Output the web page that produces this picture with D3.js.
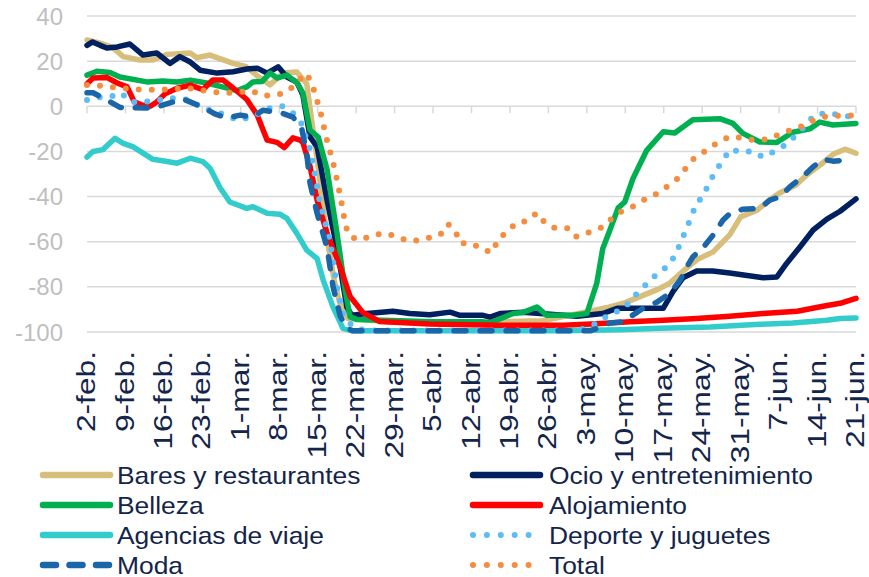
<!DOCTYPE html>
<html>
<head>
<meta charset="UTF-8" />
<title>Gasto con tarjeta por sector</title>
<script src="https://d3js.org/d3.v7.min.js"></script>
<style>
  body { margin: 0; background: #fff; }
  text { font-family: Arial, "Liberation Sans", sans-serif; }
</style>
</head>
<body>
<svg id="chart" width="869" height="577"></svg>
<script>
// week labels, one every 7 days starting 2-feb (day 0)
var weekLabels = ["2-feb.", "9-feb.", "16-feb.", "23-feb.", "1-mar.", "8-mar.", "15-mar.",
  "22-mar.", "29-mar.", "5-abr.", "12-abr.", "19-abr.", "26-abr.", "3-may.", "10-may.",
  "17-may.", "24-may.", "31-may.", "7-jun.", "14-jun.", "21-jun."]
var yTicks = [40, 20, 0, -20, -40, -60, -80, -100]

// [day since 2-feb, value]
var bares = [[0,29.4],[2.4,28],[4.7,26],[6.6,22],[9.6,20.5],[12,20.5],[14.6,23],[18.8,23.6],[20,21.5],
  [22.4,22.7],[26.6,19],[29,17.5],[31.5,12.5],[33.3,9.5],[35.7,14.7],[38.2,15.2],[40,10],[41,-8],
  [42,-25],[43,-45],[44,-63],[45,-77],[46,-87],[47.5,-94],[55,-95.5],[65,-95.5],[75,-95.5],[83,-95],
  [88,-92.5],[95,-89],[98,-87],[101,-84],[104,-81],[106,-78.5],[109,-72],[111,-68],[114,-64.5],
  [117,-57],[119,-49],[122,-46],[124,-42],[126,-38.5],[129,-35],[131,-30.5],[134,-25],[136,-21],
  [138,-19],[140,-20.8]]
var ocio = [[0,27],[1,28.5],[2.4,27],[3.6,25.8],[5.5,26.3],[7.8,27.6],[10.2,22.7],[12.7,23.6],[15.1,19],
  [16.9,22],[18.8,19.6],[20.6,16],[23.7,14.7],[26.6,15.3],[29.1,16.5],[31,16.9],[32.8,14.7],[34.8,17.5],
  [36.4,13],[38.2,10.7],[39.3,5],[40.6,-13.6],[41.9,-18],[43.7,-41.6],[45.5,-62.6],[47.3,-89],[48.2,-92.6],
  [51,-91.8],[55.7,-90.8],[58.8,-91.8],[62.4,-92.4],[66.1,-91.2],[67.9,-92.6],[72.1,-92.6],[73.4,-93.4],
  [75.2,-91.8],[79.4,-91.2],[82.5,-91.8],[89.2,-93],[93.9,-91.8],[96.5,-89.5],[104.9,-89.5],[106.7,-82],
  [108.5,-76],[111,-73],[113.9,-73],[117,-73.9],[120.2,-75],[123.1,-76],[125.6,-75.6],[127.4,-69.5],
  [129.8,-62.3],[132.2,-54.8],[134.7,-50],[137.1,-46.5],[140,-41]]
var belleza = [[0,13.8],[1.8,15.5],[4.2,15],[6,13],[10.9,10.8],[13.8,11.2],[16.4,10.8],[18.8,11.6],
  [21.8,10.3],[24.8,8.5],[27.3,7],[29.1,8.6],[30.2,10.8],[31.9,11],[33.3,14.7],[34.6,12.5],[36.4,13.8],
  [38.2,10.5],[39.3,5.9],[40.6,-10.5],[42.1,-13.6],[43.7,-28],[45.5,-56],[47,-81.5],[47.9,-93.3],
  [49.2,-94.5],[63,-95.5],[72.1,-95.5],[73.4,-96],[77.6,-91.8],[79.4,-91.3],[81.9,-88.9],[83.7,-92.6],
  [88.5,-92.6],[91,-91.8],[92.8,-78.5],[93.9,-63],[95.2,-54.8],[96.7,-45],[97.9,-42.4],[99.4,-32],
  [101.9,-19.5],[104.9,-11.3],[107,-11.8],[110.3,-6],[115.2,-5.5],[117.6,-7.6],[119.4,-12],[122.5,-15.8],
  [125.6,-16],[128.5,-11.5],[131.6,-10],[133.4,-7],[135.8,-8.3],[140,-7.6]]
var alojamiento = [[0,10],[1.1,12.5],[3.6,12.8],[5.5,10.3],[7.3,8.6],[8.6,2],[10,0.6],[11.5,0],[12.7,1.9],
  [14.2,5.5],[16.4,8],[18.8,9.4],[21.1,7.4],[22.9,11.6],[24.8,11.6],[26.6,8.1],[29.1,3],[31,-4],[32.8,-15],
  [34.6,-16],[35.9,-18.3],[37.5,-14],[38.8,-15],[39.3,-16],[40.6,-26.6],[41.9,-41.6],[43.7,-56.3],
  [46.1,-71.2],[47.9,-84.3],[50.2,-91.3],[53.3,-95.4],[62.4,-96.5],[74.6,-97],[86.7,-97],[92.8,-96.3],
  [98.9,-95.5],[104.9,-94.8],[111,-94],[117,-93],[123.1,-91.8],[129.3,-90.8],[134,-88.6],[137.1,-87.3],
  [140,-85.1]]
var agencias = [[0,-22.5],[1.1,-20],[2.9,-19.2],[5.1,-14.2],[6.6,-16.4],[8.4,-18],[12,-23.5],[14.6,-24.5],
  [16.4,-25.2],[18.8,-23],[21.1,-24.5],[22.4,-27.5],[24.2,-36],[26,-42.4],[29.1,-45.2],[30.2,-44.5],
  [32.8,-47.4],[35.1,-47.8],[36.4,-49.7],[38.2,-56.3],[40,-63.7],[41.9,-67.5],[43,-77],[44.8,-89],
  [46.6,-98.4],[48.4,-99.5],[66,-99.5],[86,-99.5],[97,-99],[104.3,-98.3],[113.4,-97.8],[122.5,-96.6],
  [128.5,-96],[134.7,-94.8],[137.1,-94],[140,-93.8]]
var deporte = [[0,2.8],[2.4,4],[4.2,4.1],[6.2,6],[8,1.9],[10.2,1.9],[12.7,2.5],[14.7,3.7],[16.9,3.5],
  [19.1,2.5],[21.1,-1.2],[23.3,-2],[25.1,-3.9],[27.5,-6.1],[29.7,-4.8],[31.5,-3],[33,-1],[34.8,0],[35.7,0],
  [37.5,-3],[39,-7.5],[40.6,-19],[41.9,-35.6],[42.4,-43],[44.2,-59],[45.5,-80],[46.6,-92],[48.4,-97.8],
  [50.6,-99.3],[88.5,-99.3],[91,-98.4],[92.8,-96],[94.9,-92.6],[97,-90.4],[98.9,-86.7],[100.3,-82.3],
  [102.1,-78.3],[103.9,-73.9],[105.8,-70.8],[107.2,-65.5],[108.1,-60.1],[109.1,-54.4],[110,-49],
  [110.9,-43.3],[112.3,-39.3],[113.2,-34],[114.5,-28.7],[115.8,-23.5],[117.2,-19],[118.9,-20.3],
  [121.1,-19.9],[123.1,-22.5],[125.2,-19.9],[127.4,-16.8],[129.1,-12.8],[130.7,-8.8],[132.4,-3.9],
  [134.7,-2.9],[137.1,-3.9],[139.5,-4.8]]
var moda = [[0,6],[1.1,6],[4.2,2],[6,-0.5],[10.9,-0.8],[12.7,-0.3],[15.1,1.5],[17.5,3.2],[19.3,1.4],
  [21.1,-0.5],[23.3,-3.4],[25.5,-5.2],[27.9,-3.9],[30,-4.8],[32,-1.8],[35.1,-2.7],[37.5,-4.8],[39.1,-10],
  [40,-20.8],[40.6,-34],[41.9,-47.5],[43.7,-62.6],[44.8,-80],[46.1,-93],[47.3,-98.3],[48.4,-99.5],
  [91.6,-99.5],[92.8,-98.4],[95.2,-96],[97.6,-95.5],[98.9,-93.3],[101.2,-89.5],[103.8,-86.7],[106.1,-82.8],
  [108,-77],[109.2,-71.2],[110.3,-66.7],[112.1,-62.8],[114,-57],[115.8,-50.4],[117.1,-47.4],[119.4,-45.6],
  [122.5,-45.2],[124.3,-41.6],[126.2,-40.1],[128,-35.6],[130.3,-31.2],[132.2,-26.8],[134,-23.5],
  [135.8,-24.3],[138.4,-23.8]]
var total = [[0,9.4],[1.1,9.4],[6,8.1],[10.9,7.2],[15.7,7.6],[18.2,8.1],[20.6,7.2],[22.9,6.3],[25.5,5.9],
  [27.9,6.3],[30,6.8],[32,4.6],[34.2,5],[36,5.9],[37.9,9.4],[39.7,14.6],[40.6,12],[41.5,5.9],[42.1,0.6],
  [42.8,-5.2],[43.3,-11.4],[43.9,-17],[44.6,-23],[45.1,-28],[45.7,-34.8],[46.1,-40],[46.6,-45.9],[47,-52.7],
  [47.9,-57.8],[49.7,-59.3],[52.1,-57],[54.6,-56.3],[57,-58.6],[59.3,-59.8],[61.9,-58.5],[64.3,-57],
  [65.7,-52.2],[67,-54.8],[67.9,-60.7],[70.1,-60.7],[72.1,-63.7],[73.9,-64.6],[74.8,-58.9],[76.5,-55.7],
  [78.1,-51.7],[80.1,-50.8],[81.9,-47.2],[83.4,-51.7],[85.2,-54],[87.6,-54],[89,-57.8],[91.2,-56],
  [93.6,-53.8],[95.2,-50.4],[97,-46.9],[99.2,-44.7],[101.4,-41.5],[103.6,-38.9],[105.6,-35.6],[107.6,-31.9],
  [109,-27.5],[110.7,-22.5],[112.7,-19.7],[114.7,-16.2],[116.9,-13.5],[119.2,-13.9],[121.4,-15],[124,-14.6],
  [126.2,-12.3],[128.3,-10.3],[130.7,-8.4],[132.9,-5.4],[135.1,-4.2],[137.6,-4.2],[140,-4]]

var series = [
  {name: "Bares y restaurantes", data: bares, color: "#d7be7b", style: "solid"},
  {name: "Ocio y entretenimiento", data: ocio, color: "#002060", style: "solid"},
  {name: "Belleza", data: belleza, color: "#00b050", style: "solid"},
  {name: "Alojamiento", data: alojamiento, color: "#ff0000", style: "solid"},
  {name: "Agencias de viaje", data: agencias, color: "#33cccc", style: "solid"},
  {name: "Deporte y juguetes", data: deporte, color: "#5bbcf8", style: "dot"},
  {name: "Moda", data: moda, color: "#1a66a8", style: "dash"},
  {name: "Total", data: total, color: "#f58d3f", style: "dot"}
]

var textColor = "#13254a"
var gridColor = "#d9d9d9"

var svg = d3.select("#chart")

var x = d3.scaleLinear().domain([0, 140]).range([87, 856])
var y = d3.scaleLinear().domain([-100, 40]).range([332, 16])

// gridlines
svg.append("g")
  .selectAll("line")
  .data(yTicks)
  .join("line")
  .attr("x1", x(0)).attr("x2", x(140))
  .attr("y1", d => y(d)).attr("y2", d => y(d))
  .attr("stroke", gridColor)
  .attr("stroke-width", 1.5)

// y labels
svg.append("g")
  .selectAll("text")
  .data(yTicks)
  .join("text")
  .attr("x", 63)
  .attr("y", d => y(d))
  .attr("dy", "0.36em")
  .attr("text-anchor", "end")
  .attr("font-size", 24)
  .attr("fill", "#bfbfbf")
  .text(d => d)

// category axis crossing at 0, ticks below
var weekDays = weekLabels.map((l, i) => i * 7)
svg.append("g")
  .selectAll("line")
  .data(weekDays)
  .join("line")
  .attr("x1", d => x(d)).attr("x2", d => x(d))
  .attr("y1", y(0)).attr("y2", y(0) + 7)
  .attr("stroke", gridColor)
  .attr("stroke-width", 1.5)

// rotated week labels at the bottom
svg.append("g")
  .selectAll("text")
  .data(weekLabels)
  .join("text")
  .attr("transform", (d, i) => "translate(" + x(i * 7) + ",351) rotate(-90) scale(1.22,1)")
  .attr("dy", "0.31em")
  .attr("text-anchor", "end")
  .attr("font-size", 26)
  .attr("fill", textColor)
  .text(d => d)

var line = d3.line()
  .x(d => x(d[0]))
  .y(d => y(d[1]))

function styleLine(sel, s, w) {
  sel.attr("fill", "none")
    .attr("stroke", s.color)
    .attr("stroke-linejoin", "round")
    .attr("stroke-linecap", "round")
  if (s.style == "dot") {
    sel.attr("stroke-width", 6).attr("stroke-dasharray", "0 13")
  } else if (s.style == "dash") {
    sel.attr("stroke-width", w).attr("stroke-dasharray", "12 14")
  } else {
    sel.attr("stroke-width", w)
  }
}

series.forEach(s => {
  svg.append("path")
    .datum(s.data)
    .attr("d", line)
    .call(styleLine, s, 5.5)
})

// legend, two columns
var legend = svg.append("g")
series.forEach((s, i) => {
  var col = i % 2, row = Math.floor(i / 2)
  var lx = col == 0 ? 43 : 473
  var ly = 475 + row * 30
  var sample = legend.append("line")
    .attr("x1", lx).attr("x2", lx + 67)
    .attr("y1", ly).attr("y2", ly)
    .call(styleLine, s, 6.5)
  if (s.style == "dot") sample.attr("stroke-dasharray", "0 13.9").attr("x2", lx + 60)
  if (s.style == "dash") sample.attr("stroke-dasharray", "13 13.5")
  legend.append("text")
    .attr("transform", "translate(" + (col == 0 ? 117 : 549) + "," + ly + ") scale(1.1,1)")
    .attr("dy", "0.36em")
    .attr("font-size", 24)
    .attr("fill", textColor)
    .text(s.name)
})
</script>
</body>
</html>
